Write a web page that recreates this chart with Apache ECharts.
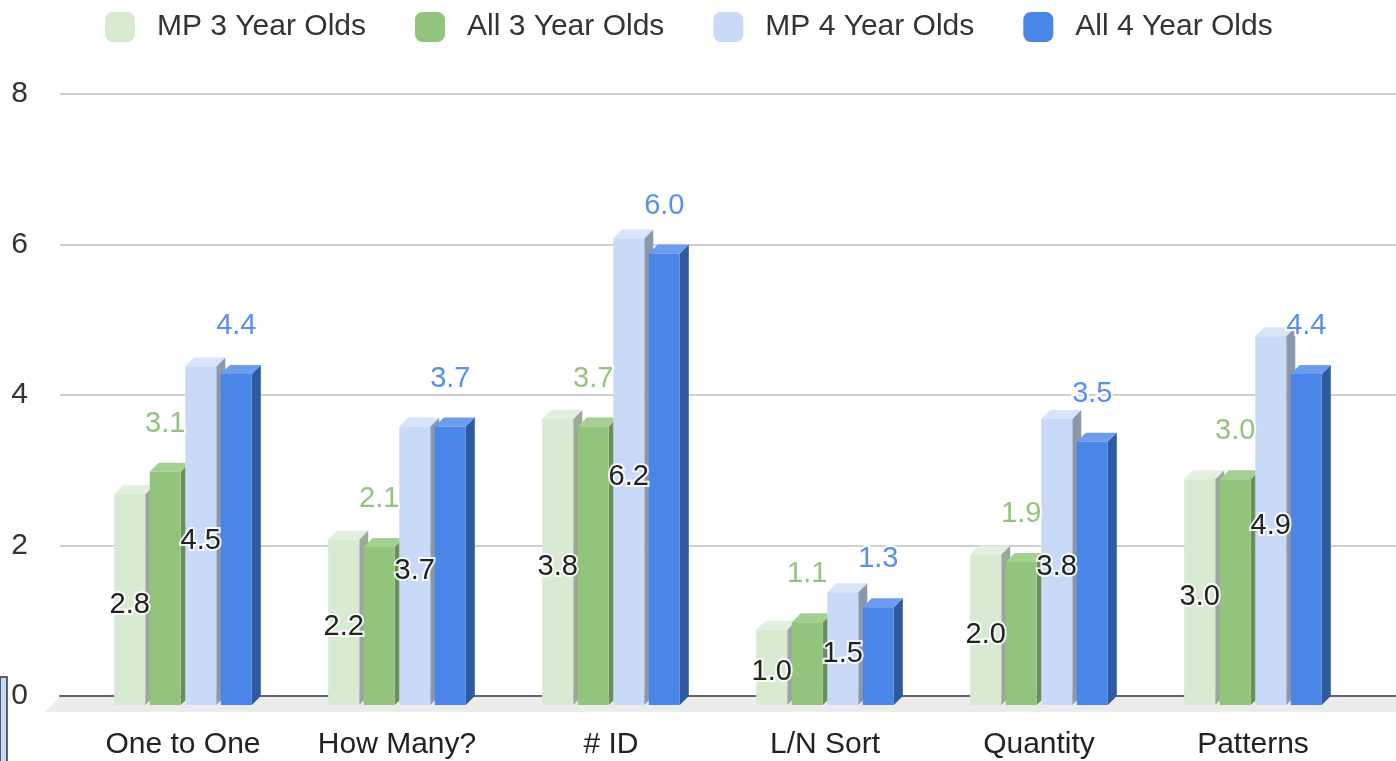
<!DOCTYPE html>
<html>
<head>
<meta charset="utf-8">
<script src="https://cdn.jsdelivr.net/npm/echarts@6/dist/echarts.min.js"></script>
<style>
html,body{margin:0;padding:0;background:#fff;}
#chart{width:1396px;height:761px;}
</style>
</head>
<body>
<div id="chart"></div>
<script>
// ---- data ----
const categories = ['One to One', 'How Many?', '# ID', 'L/N Sort', 'Quantity', 'Patterns'];
const seriesNames = ['MP 3 Year Olds', 'All 3 Year Olds', 'MP 4 Year Olds', 'All 4 Year Olds'];
const mp3 = [2.8, 2.2, 3.8, 1.0, 2.0, 3.0];
const all3 = [3.1, 2.1, 3.7, 1.1, 1.9, 3.0];
const mp4 = [4.5, 3.7, 6.2, 1.5, 3.8, 4.9];
const all4 = [4.4, 3.7, 6.0, 1.3, 3.5, 4.4];
const yTicks = [0, 2, 4, 6, 8];

// ---- styles ----
const FONT = '"Liberation Sans", Arial, sans-serif';
const palette = [
  { front: '#d9ead3', side: '#9ea79b', top: '#e4f0df', label: 'inside' },
  { front: '#93c47d', side: '#6a8f5a', top: '#a6d092', label: 'top', labelColor: '#93c47d' },
  { front: '#c9daf8', side: '#8b97ab', top: '#d7e4fa', label: 'inside' },
  { front: '#4a86e8', side: '#2f5aa0', top: '#6b9cee', label: 'top', labelColor: '#5a90ea' }
];
const allData = [mp3, all3, mp4, all4];

function makeRender(sIdx) {
  const pal = palette[sIdx];
  return function (params, api) {
    const ci = api.value(0);
    const v = api.value(1);
    const base = api.coord([ci, 0]);
    const topP = api.coord([ci, v]);
    const band = api.size([1, 0])[0];
    const pitch = band * 0.166;
    const w = band * 0.145;
    const cx = base[0] + (sIdx - 1.5) * pitch;
    const x0 = cx - w / 2, x1 = cx + w / 2;
    const yt = topP[1], yb = base[1];
    const dx = 9, dy = 9;
    const children = [
      { type: 'polygon', shape: { points: [[x1, yt], [x1 + dx, yt - dy], [x1 + dx, yb - dy], [x1, yb]] }, style: { fill: pal.side } },
      { type: 'polygon', shape: { points: [[x0, yt], [x0 + dx, yt - dy], [x1 + dx, yt - dy], [x1, yt]] }, style: { fill: pal.top } },
      { type: 'rect', shape: { x: x0, y: yt, width: w, height: yb - yt }, style: { fill: pal.front } }
    ];
    const txt = v.toFixed(1);
    if (pal.label === 'inside') {
      children.push({ type: 'text', z2: 50, style: { x: cx, y: (yt + yb) / 2 + 5, text: txt, align: 'center', verticalAlign: 'middle',
        fontSize: 29, fontFamily: FONT, fill: '#222', stroke: 'rgba(255,255,255,0.85)', lineWidth: 4 } });
    } else {
      children.push({ type: 'text', z2: 50, style: { x: cx, y: yt - 48, text: txt, align: 'center', verticalAlign: 'middle',
        fontSize: 29, fontFamily: FONT, fill: pal.labelColor, stroke: '#ffffff', lineWidth: 4 } });
    }
    return { type: 'group', children: children };
  };
}

const chart = echarts.init(document.getElementById('chart'));
const option = {
  backgroundColor: '#ffffff',
  animation: false,
  legend: {
    top: 12, left: 105, padding: 0,
    itemWidth: 30, itemHeight: 30, itemGap: 49,
    icon: 'roundRect',
    data: seriesNames,
    textStyle: { fontSize: 30, fontFamily: FONT, color: '#333', padding: [0, 0, 0, 17] }
  },
  grid: [
    { left: 60, right: 0, top: 94, bottom: 65 },
    { left: 76, right: 36, top: 103, bottom: 56 }
  ],
  xAxis: [
    { gridIndex: 0, type: 'category', data: categories, axisLine: { show: true, lineStyle: { color: '#666', width: 2 } },
      axisTick: { show: false }, axisLabel: { show: false }, splitLine: { show: false } },
    { gridIndex: 1, type: 'category', data: categories, axisLine: { show: false }, axisTick: { show: false },
      axisLabel: { fontSize: 30, fontFamily: FONT, color: '#222', margin: 25 } }
  ],
  yAxis: [
    { gridIndex: 0, type: 'value', min: yTicks[0], max: yTicks[yTicks.length - 1], interval: 2,
      axisLine: { show: false }, axisTick: { show: false },
      axisLabel: { fontSize: 30, fontFamily: FONT, color: '#333', margin: 32 },
      splitLine: { show: true, lineStyle: { color: '#d0d0d0', width: 2 } } },
    { gridIndex: 1, type: 'value', min: yTicks[0], max: yTicks[yTicks.length - 1], interval: 2, show: false }
  ],
  graphic: [
    { type: 'polygon', z: 0, shape: { points: [[60, 697], [1396, 697], [1396, 712], [45, 712]] }, style: { fill: '#ececec' } },
    { type: 'rect', z: 0, shape: { x: 0, y: 677, width: 7, height: 90 }, style: { fill: '#c9daf8', stroke: '#333', lineWidth: 1.5 } }
  ],
  series: seriesNames.map(function (name, s) {
    return {
      name: name, type: 'custom', xAxisIndex: 1, yAxisIndex: 1, z: 5,
      itemStyle: { color: palette[s].front },
      renderItem: makeRender(s),
      encode: { x: 0, y: 1 },
      data: allData[s].map(function (v, i) { return [i, v]; })
    };
  })
};
chart.setOption(option);
</script>
</body>
</html>
